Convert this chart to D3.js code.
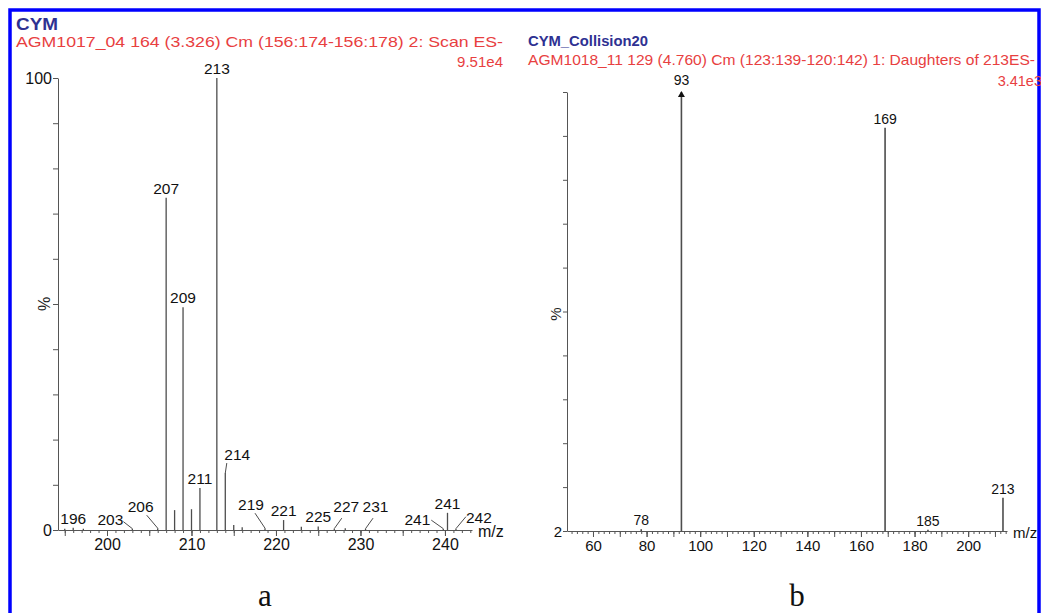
<!DOCTYPE html>
<html>
<head>
<meta charset="utf-8">
<script src="https://cdn.jsdelivr.net/npm/d3@7"></script>
<style>
  body { margin: 0; background: #fff; }
  svg { display: block; font-family: Arial, "Liberation Sans", sans-serif; }
</style>
</head>
<body>
<div id="chart"></div>
<script>
// panel a : full scan
const titleA = "CYM";
const subtitleA = "AGM1017_04 164 (3.326) Cm (156:174-156:178) 2: Scan ES-";
const maxA = "9.51e4";
const mzA = [195.0, 196.0, 197.2, 203.0, 206.0, 207.0, 208.0, 209.0, 210.0, 211.0, 213.0, 214.0, 215.0, 216.0, 218.7,
  220.9, 223.0, 225.0, 226.9, 228.2, 230.6, 239.8, 240.3, 241.3];
const intA = [0.3, 0.5, 0.3, 0.3, 0.4, 73.5, 4.4, 49.3, 4.6, 9.3, 100, 12.6, 1.1, 0.6, 0.4,
  2.2, 0.7, 0.8, 0.3, 0.4, 0.3, 0.3, 3.8, 0.3];
const labelA = [null, "196", null, "203", "206", "207", null, "209", null, "211", "213", "214", null, null, "219",
  "221", null, "225", "227", null, "231", "241", "241", "242"];
const xTicksA = [200, 210, 220, 230, 240];
const yLabelsA = [0, 100];

// panel b : daughters of 213
const titleB = "CYM_Collision20";
const subtitleB = "AGM1018_11 129 (4.760) Cm (123:139-120:142) 1: Daughters of 213ES-";
const maxB = "3.41e3";
const mzB = [78, 93, 169, 185, 213];
const intB = [2.4, 100, 92, 2.3, 9.4];
const labelB = ["78", "93", "169", "185", "213"];
const xTicksB = [60, 80, 100, 120, 140, 160, 180, 200];
const yLabelsB = [2];

// label placement for peaks that use a leader line (pixel offsets from peak top)
const leadersA = {
  "203": { dx: -9, dy: -3.5, anchor: "end", lx: -9, ly: -7 },
  "206": { dx: -17, dy: -16, anchor: "middle", lx: -11, ly: -13 },
  "214": { dx: -1, dy: -13, anchor: "start", lx: 1.5, ly: -10 },
  "219": { dx: -14, dy: -18, anchor: "middle", lx: -10, ly: -15 },
  "227": { dx: 12, dy: -16.5, anchor: "middle", lx: 7.5, ly: -10.5 },
  "231": { dx: 10, dy: -16.5, anchor: "middle", lx: 7.5, ly: -10.5 },
  "241a": { dx: -13, dy: -3.5, anchor: "end", lx: -12, ly: -8.5 },
  "242": { dx: 10, dy: -5.5, anchor: "start", lx: 10, ly: -12 }
};

const W = 1041, H = 613;
const peakColor = "#4d4d4d", axisColor = "#555", navy = "#2e3192", red = "#e8403f";

const svg = d3.select("#chart").append("svg").attr("width", W).attr("height", H);

// blue frame
svg.append("rect").attr("x", 10).attr("y", 10).attr("width", 1029).attr("height", 640)
  .attr("fill", "none").attr("stroke", "#0000ff").attr("stroke-width", 3.5);

function header(x, title, sub, subWidth, subY, maxLabel, maxX, maxY, titleY, titleW, titleSize, subSize) {
  svg.append("text").attr("x", x).attr("y", titleY).attr("fill", navy)
    .attr("font-weight", "bold").attr("font-size", titleSize)
    .attr("textLength", titleW).attr("lengthAdjust", "spacingAndGlyphs").text(title);
  svg.append("text").attr("x", x).attr("y", subY).attr("fill", red).attr("font-size", subSize)
    .attr("textLength", subWidth).attr("lengthAdjust", "spacingAndGlyphs").text(sub);
  svg.append("text").attr("x", maxX).attr("y", maxY).attr("fill", red).attr("font-size", subSize)
    .attr("text-anchor", "end").text(maxLabel);
}

header(16, titleA, subtitleA, 487, 47, maxA, 503, 67, 30, 42, 17, 15);
header(528, titleB, subtitleB, 507, 65, maxB, 1042, 86, 46, 120, 15.5, 14.5);

function styleAxis(g, fontSize) {
  g.select(".domain").attr("stroke", axisColor);
  g.selectAll(".tick line").attr("stroke", axisColor);
  g.selectAll(".tick text").attr("fill", "#111").attr("font-size", fontSize)
    .attr("font-family", "Arial, 'Liberation Sans', sans-serif");
}

function drawPanel(p) {
  const x = d3.scaleLinear().domain(p.xDomain).range(p.xRange);
  const y = d3.scaleLinear().domain(p.yDomain).range(p.yRange);
  const y0 = p.yRange[0];
  const g = svg.append("g");

  // x axis: minor, mid and labelled ticks
  const minor = d3.range(Math.ceil(p.xDomain[0] / p.minorStep) * p.minorStep, p.xDomain[1], p.minorStep);
  const mid = d3.range(Math.ceil(p.xDomain[0] / p.midStep) * p.midStep, p.xDomain[1], p.midStep);
  g.append("g").attr("transform", `translate(0,${y0})`)
    .call(d3.axisBottom(x).tickValues(minor).tickSize(3).tickSizeOuter(0).tickFormat(""))
    .call(a => styleAxis(a, p.axisFont));
  g.append("g").attr("transform", `translate(0,${y0})`)
    .call(d3.axisBottom(x).tickValues(mid).tickSize(6).tickSizeOuter(0).tickFormat(""))
    .call(a => a.select(".domain").remove()).call(a => styleAxis(a, p.axisFont));
  g.append("g").attr("transform", `translate(0,${y0})`)
    .call(d3.axisBottom(x).tickValues(p.xTicks).tickSize(6).tickPadding(3).tickSizeOuter(0).tickFormat(d3.format("d")))
    .call(a => a.select(".domain").remove()).call(a => styleAxis(a, p.axisFont));

  // y axis
  const yTicks = d3.range(0, 11).map(i => p.yDomain[0] + i * (p.yDomain[1] - p.yDomain[0]) / 10);
  g.append("g").attr("transform", `translate(${p.xRange[0]},0)`)
    .call(d3.axisLeft(y).tickValues(yTicks).tickSize(p.yTickSize).tickSizeOuter(0).tickPadding(1)
      .tickFormat(d => p.yLabels.some(v => Math.abs(v - d) < 1e-6) ? d3.format("d")(d) : ""))
    .call(a => styleAxis(a, p.axisFont))
    .call(a => a.selectAll(".tick text").attr("dy", "0.36em"));

  g.append("text").attr("transform", `translate(${p.pctX},${p.pctY}) rotate(-90)`)
    .attr("text-anchor", "middle").attr("font-size", p.axisFont).attr("fill", "#222").text("%");
  g.append("text").attr("x", p.mzX).attr("y", y0 + 7).attr("font-size", p.axisFont)
    .attr("fill", "#111").text("m/z");

  // peaks
  const peaks = p.mz.map((m, i) => ({ mz: m, v: p.int[i], label: p.label[i], i }));
  g.selectAll(null).data(peaks).enter().append("line")
    .attr("x1", d => x(d.mz)).attr("x2", d => x(d.mz))
    .attr("y1", y0).attr("y2", d => y(d.v))
    .attr("stroke", peakColor).attr("stroke-width", p.peakWidth);

  // labels
  const seen = {};
  peaks.filter(d => d.label).forEach(d => {
    let key = d.label;
    if (!seen[key] && p.leaders[key + "a"]) key = key + "a";
    seen[d.label] = true;
    const px = x(d.mz), py = y(d.v);
    const lay = p.leaders[key];
    if (lay) {
      g.append("line").attr("x1", px + lay.lx).attr("y1", py + lay.ly).attr("x2", px).attr("y2", py)
        .attr("stroke", peakColor).attr("stroke-width", 1);
      g.append("text").attr("x", px + lay.dx).attr("y", py + lay.dy).attr("text-anchor", lay.anchor)
        .attr("font-size", p.peakFont).attr("fill", "#111").text(d.label);
    } else {
      g.append("text").attr("x", px).attr("y", py - (p.arrow && d.v >= p.yDomain[1] ? 7 : 4))
        .attr("text-anchor", "middle").attr("font-size", p.peakFont).attr("fill", "#111").text(d.label);
    }
    if (p.arrow && d.v >= p.yDomain[1]) {
      g.append("path").attr("d", `M${px},${py - 1}L${px - 3.5},${py + 5}L${px + 3.5},${py + 5}Z`)
        .attr("fill", "#111");
    }
  });
}

drawPanel({
  mz: mzA, int: intA, label: labelA, xTicks: xTicksA, yLabels: yLabelsA, leaders: leadersA,
  xDomain: [194.2, 243.2], xRange: [58, 472], yDomain: [0, 100], yRange: [530, 78],
  minorStep: 1, midStep: 5, yTickSize: 5, axisFont: 16, peakFont: 15.5, peakWidth: 1.3,
  pctX: 50, pctY: 304, mzX: 478, arrow: false
});

drawPanel({
  mz: mzB, int: intB, label: labelB, xTicks: xTicksB, yLabels: yLabelsB, leaders: {},
  xDomain: [50.3, 214.5], xRange: [567, 1007], yDomain: [2, 100], yRange: [531, 92],
  minorStep: 2, midStep: 10, yTickSize: 4, axisFont: 15, peakFont: 14, peakWidth: 1.6,
  pctX: 561, pctY: 314, mzX: 1013, arrow: true
});

// panel captions
svg.append("text").attr("x", 265).attr("y", 606).attr("text-anchor", "middle")
  .attr("font-family", "'Liberation Serif', 'Times New Roman', serif").attr("font-size", 31).attr("fill", "#111").text("a");
svg.append("text").attr("x", 797).attr("y", 606).attr("text-anchor", "middle")
  .attr("font-family", "'Liberation Serif', 'Times New Roman', serif").attr("font-size", 31).attr("fill", "#111").text("b");
</script>
</body>
</html>
